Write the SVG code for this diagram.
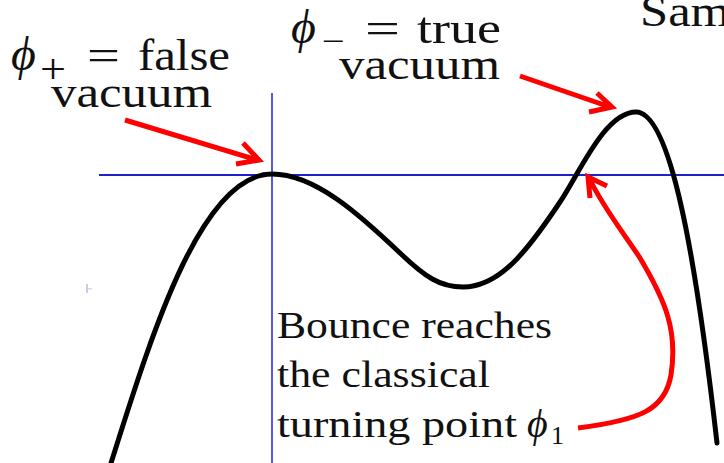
<svg xmlns="http://www.w3.org/2000/svg" width="724" height="463" viewBox="0 0 724 463">
<style>
.t{font-family:"Liberation Serif","Times New Roman",serif;fill:#111;}
.m{font-style:italic;}
.arrow{fill:none;stroke:#ff0000;stroke-width:5;stroke-linejoin:miter;}
.curve{fill:none;stroke:#000;stroke-width:5;stroke-linecap:round;}
</style>
<rect width="724" height="463" fill="#fff"/>
<g id="axes">
<line x1="99" y1="175" x2="724" y2="175" stroke="#2020cc" stroke-width="2"/>
<line x1="272" y1="93" x2="272" y2="463" stroke="#5858e6" stroke-width="2"/>
</g>
<g id="potential">
<path class="curve" d="M111,463 C150,340 200,174 272,174 C315,174 360,215 400,253 C425,277 440,287 463,287 C500,287 528,250 560,202 C580,172 605,112 636,112 C670,112 695,250 717,443"/>
</g>
<rect x="86" y="284" width="2" height="9" fill="#c8cde2"/>
<rect x="88" y="288" width="4" height="1.5" fill="#d6dae8"/>
<g id="label-false">
<text class="t m" x="11" y="70" font-size="48">ϕ</text>
<text class="t" x="40" y="83" font-size="42" textLength="26" lengthAdjust="spacingAndGlyphs">+</text>
<text class="t" x="87" y="70" font-size="44" textLength="33" lengthAdjust="spacingAndGlyphs">=</text>
<text class="t" x="138" y="70" font-size="44" textLength="92" lengthAdjust="spacingAndGlyphs">false</text>
<text class="t" x="51" y="107" font-size="44" textLength="161" lengthAdjust="spacingAndGlyphs">vacuum</text>
</g>
<g id="label-true">
<text class="t m" x="291" y="43" font-size="48">ϕ</text>
<text class="t" x="322" y="51" font-size="30" textLength="23" lengthAdjust="spacingAndGlyphs">−</text>
<text class="t" x="365" y="43" font-size="44" textLength="35" lengthAdjust="spacingAndGlyphs">=</text>
<text class="t" x="417" y="43" font-size="44" textLength="84" lengthAdjust="spacingAndGlyphs">true</text>
<text class="t" x="339" y="79" font-size="44" textLength="161" lengthAdjust="spacingAndGlyphs">vacuum</text>
</g>
<g id="label-sam">
<text class="t" x="640" y="26" font-size="44" textLength="90" lengthAdjust="spacingAndGlyphs">Sam</text>
</g>
<g id="label-bounce">
<text class="t" x="277" y="338" font-size="37" textLength="275" lengthAdjust="spacingAndGlyphs">Bounce reaches</text>
<text class="t" x="277" y="387" font-size="37" textLength="213" lengthAdjust="spacingAndGlyphs">the classical</text>
<text class="t" x="277" y="437" font-size="37" textLength="240" lengthAdjust="spacingAndGlyphs">turning point</text>
<text class="t m" x="527" y="437" font-size="40">ϕ</text>
<text class="t" x="551" y="444" font-size="26">1</text>
</g>
<g id="connectors">
<path class="arrow" d="M125,120 L257,160 M243,143 L259,160 L236,164"/>
<path class="arrow" d="M520,76 L610,107 M597,93 L612,107 L589,112"/>
<path class="arrow" d="M578,428 C640,420 665,410 671,375 C678,330 665,300 640,258 C625,235 605,210 590,180 M607,186 L588,177 L590,198"/>
</g>
</svg>
